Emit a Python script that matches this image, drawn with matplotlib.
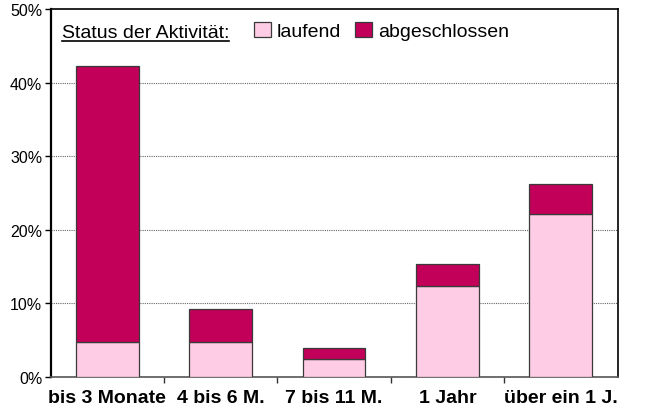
"""Gestapeltes Balkendiagramm: Dauer der Aktivitaet nach Status."""

import matplotlib

matplotlib.use("Agg")
import matplotlib.pyplot as plt
from matplotlib.lines import Line2D
from matplotlib.patches import Patch
from matplotlib.ticker import FixedLocator, FuncFormatter

plt.rcParams["font.family"] = ["Liberation Sans", "DejaVu Sans"]

# Daten (Prozent)
kategorien = ["bis 3 Monate", "4 bis 6 M.", "7 bis 11 M.", "1 Jahr", "über ein 1 J."]
laufend = [4.8, 4.8, 2.5, 12.3, 22.1]
abgeschlossen = [37.4, 4.5, 1.5, 3.1, 4.1]
serien_namen = ["laufend", "abgeschlossen"]
legenden_titel = "Status der Aktivität:"

FARBE_LAUFEND = "#FFCCE5"
FARBE_ABGESCHLOSSEN = "#C2005A"
RAND = "#3a3a3a"

W, H = 647, 414
fig = plt.figure(figsize=(W / 100, H / 100), dpi=100)
ax = fig.add_axes([50.5 / W, 1 - 378 / H, 567 / W, 368 / H])

x = list(range(len(kategorien)))
breite = 0.555
ax.bar(x, laufend, width=breite, color=FARBE_LAUFEND, edgecolor=RAND,
       linewidth=0.9, zorder=3)
ax.bar(x, abgeschlossen, width=breite, bottom=laufend, color=FARBE_ABGESCHLOSSEN,
       edgecolor=RAND, linewidth=0.9, zorder=3)

ax.set_xlim(-0.5, len(kategorien) - 0.5)
ax.set_ylim(0, 50)

# y-Achse
ax.set_yticks([0, 10, 20, 30, 40, 50])
ax.yaxis.set_major_formatter(FuncFormatter(lambda v, _: f"{v:.0f}%"))
ax.tick_params(axis="y", labelsize=11.5, length=4, width=1, pad=2, direction="out")
for y in [10, 20, 30, 40]:
    ax.axhline(y, color="#666666", linestyle=(0, (1, 1)), linewidth=0.8, zorder=1)

# x-Achse: Beschriftung mittig, Striche an den Grenzen
ax.set_xticks(x)
ax.set_xticklabels(kategorien, fontsize=14, fontweight="bold")
ax.tick_params(axis="x", which="major", length=0, pad=9)
ax.xaxis.set_minor_locator(FixedLocator([i + 0.5 for i in x[:-1]]))
ax.tick_params(axis="x", which="minor", length=4, width=1, direction="out",
               color="#333333")

for seite in ["top", "right"]:
    ax.spines[seite].set_color("black")
    ax.spines[seite].set_linewidth(1.2)
ax.spines["left"].set_linewidth(1.6)
ax.spines["bottom"].set_color("#555555")
ax.spines["bottom"].set_linewidth(1.2)

# Legende
titel = fig.text(62 / W, 1 - 38 / H, legenden_titel, fontsize=14, va="baseline")
griffe = [
    Patch(facecolor=FARBE_LAUFEND, edgecolor=RAND, linewidth=0.9),
    Patch(facecolor=FARBE_ABGESCHLOSSEN, edgecolor=RAND, linewidth=0.9),
]
fig.legend(griffe, serien_namen, loc="center left",
           bbox_to_anchor=(254 / W, 1 - 32 / H), ncol=2, frameon=False,
           fontsize=14, borderpad=0, borderaxespad=0, handlelength=0.85,
           handleheight=0.85, handletextpad=0.3, columnspacing=0.75)

fig.canvas.draw()
bb = titel.get_window_extent().transformed(fig.transFigure.inverted())
unterstrich_y = 1 - 41.5 / H
fig.add_artist(Line2D([bb.x0, bb.x1], [unterstrich_y, unterstrich_y],
                      transform=fig.transFigure, color="black", linewidth=1.2))

fig.savefig("out.png", dpi=100)
